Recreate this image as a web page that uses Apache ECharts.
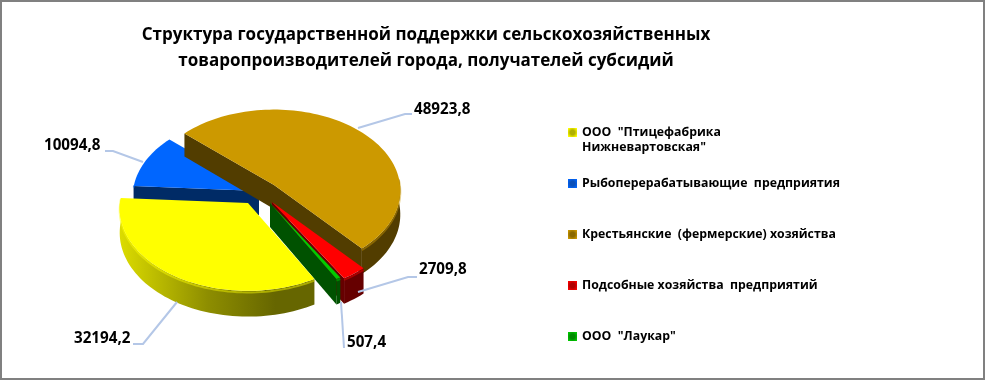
<!DOCTYPE html>
<html><head><meta charset="utf-8">
<style>html,body{margin:0;padding:0;background:#fff}#c{width:985px;height:380px}</style>
<script src="https://cdn.jsdelivr.net/npm/echarts@6/dist/echarts.min.js"></script>
</head><body><div id="c"></div>
<script>
const titleLines = ['Структура государственной поддержки сельскохозяйственных','товаропроизводителей города, получателей субсидий'];
const categories = ['ООО  "Птицефабрика Нижневартовская"','Рыбоперерабатывающие  предприятия','Крестьянские  (фермерские) хозяйства','Подсобные хозяйства  предприятий','ООО  "Лаукар"'];
const values = [32194.2, 10094.8, 48923.8, 2709.8, 507.4];

// styling / layout
const topColors  = ['#FFFF00','#0066FF','#CC9900','#FF0000','#00CC00'];
const sideColors = ['#666600','#002B66','#523D00','#660000','#005200'];
const markerDark = ['#B0B000','#0A4FB8','#8A6800','#B00000','#008A00'];
const apex = [[248,203],[259,191],[274,185],[272,202],[270,203]];
const radii = [128,126,126,131,128];
const stackOrder = [5,1,2,3,4];
const labelBox = [[74,339],[44,146],[414,110],[419,270],[347,343]];
const leaders = [
  [[177,302],[143,344],[133,344]],
  [[143,162],[113,151],[105,151]],
  [[358,128],[405,114],[412,114]],
  [[358,292],[408,277],[417,277]],
  [[341,302],[344,348]]
];
const legendTops = [125,176,227,278,329];
const Q = 0.639, P = 0.0675/126, DEPTH = 24;
const START_DEG = 150.8;
const total = values.reduce((a,b)=>a+b,0);

function sliceRange(i){
  let a = START_DEG;
  for(let k=0;k<i;k++) a += values[k]/total*360;
  return [a, a + values[i]/total*360];
}
function proj(i,deg,r,drop){
  const t = deg*Math.PI/180, x = r*Math.sin(t), y = -r*Math.cos(t);
  const s = 1/(1-P*y);
  return [apex[i][0]+x*s, apex[i][1]+Q*y*s+drop*s];
}
function arc(i,a,b,drop){
  const n = Math.max(2,Math.ceil(Math.abs(b-a)/2)), pts=[];
  for(let k=0;k<=n;k++) pts.push(proj(i,a+(b-a)*k/n,radii[i],drop));
  return pts;
}
function face(i,deg,fill){
  const o=proj(i,0,0,0), e=proj(i,deg,radii[i],0), e2=proj(i,deg,radii[i],DEPTH), o2=proj(i,0,0,DEPTH);
  return {type:'polygon',z2:1,shape:{points:[o,e,e2,o2]},style:{fill}};
}
function sideFill(i){
  if(i===0) return {type:'linear',x:0,y:0,x2:1,y2:0,colorStops:[{offset:0,color:'#DCDC00'},{offset:.45,color:'#8E8E00'},{offset:.8,color:'#666600'},{offset:1,color:'#666600'}]};
  return sideColors[i];
}
function makeRender(i){
  return function(params,api){
    const [a,b] = sliceRange(i), kids=[];
    const norm = d => ((d%360)+360)%360;
    if(norm(a)>180) kids.push(face(i,a,sideColors[i]));
    if(norm(b)<180) kids.push(face(i,b,sideColors[i]));
    // outer wall: the part of the rim that faces the viewer
    [[85,275],[445,635]].forEach(([wa,wb])=>{
      const lo=Math.max(a,wa), hi=Math.min(b,wb);
      if(hi>lo){
        const pts = arc(i,lo,hi,0).concat(arc(i,hi,lo,DEPTH));
        kids.push({type:'polygon',z2:2,shape:{points:pts},style:{fill:sideFill(i)}});
        kids.push({type:'polyline',z2:2,shape:{points:arc(i,lo,hi,1.5)},style:{fill:null,stroke:topColors[i],opacity:.45,lineWidth:2}});
      }
    });
    const top=[proj(i,0,0,0)].concat(arc(i,a,b,0));
    kids.push({type:'polygon',z2:3,shape:{points:top},style:{fill:topColors[i]}});
    kids.push({type:'polyline',z2:4,shape:{points:leaders[i]},style:{fill:null,stroke:'#B4C7E7',lineWidth:2}});
    kids.push({type:'text',z2:5,style:{x:labelBox[i][0],y:labelBox[i][1],text:String(api.value(0)).replace('.',','),fill:'#000',font:'bold 15.2px "Open Sans"',verticalAlign:'middle',align:'left'}});
    return {type:'group',children:kids};
  };
}
const chart = echarts.init(document.getElementById('c'),null,{renderer:'canvas'});
chart.setOption({
  animation:false,
  backgroundColor:'#fff',
  title:{text:titleLines.join('\n'),left:421,top:17,textAlign:'center',
    textStyle:{fontFamily:'Open Sans',fontWeight:'bold',fontSize:17,lineHeight:26,color:'#000'}},
  legend:categories.map((name,i)=>({
    data:[name],orient:'vertical',left:568,top:legendTops[i],padding:0,selectedMode:false,
    itemWidth:9,itemHeight:i===0?29:14,
    icon:i===0?'path://M0,0H.01V.01H0Z M0,2.5H9V11.5H0Z M0,29H0.01V29.01H0Z':'path://M0,0H9V9H0Z',
    itemStyle:{color:{type:'radial',x:.5,y:i===0?.24:.5,r:.62,colorStops:[{offset:0,color:markerDark[i]},{offset:.4,color:markerDark[i]},{offset:1,color:topColors[i]}]}},
    formatter:n=>n.replace(' Нижневартовская','\nНижневартовская'),
    textStyle:{fontFamily:'Open Sans',fontWeight:'bold',fontSize:12.3,lineHeight:15,color:'#000'}
  })),
  graphic:[{type:'rect',silent:true,z:100,shape:{x:1,y:1,width:983,height:378},style:{fill:null,stroke:'#808080',lineWidth:2}}],
  series:categories.map((name,i)=>({
    type:'custom',name,coordinateSystem:'none',data:[[values[i]]],z:stackOrder[i]+1,
    itemStyle:{color:topColors[i]},renderItem:makeRender(i),silent:true
  }))
});
</script></body></html>
